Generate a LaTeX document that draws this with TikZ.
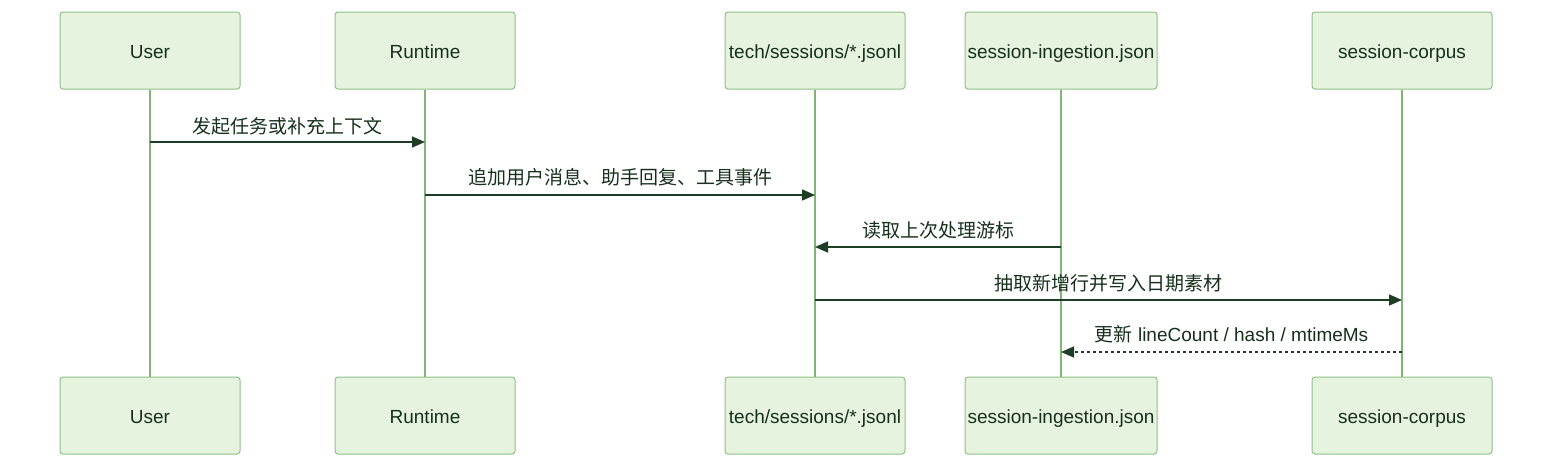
\documentclass[tikz,border=0pt]{standalone}
\usepackage{fontspec}
\setmainfont{Liberation Sans}
\newfontfamily\cjk{Noto Sans CJK SC}
\usetikzlibrary{arrows.meta}
\definecolor{boxfill}{HTML}{E6F4DF}
\definecolor{boxdraw}{HTML}{8FC087}
\definecolor{lifeln}{HTML}{82B479}
\definecolor{msgcol}{HTML}{1E3D25}
\definecolor{txtcol}{HTML}{16301C}
\tikzset{
  actor/.style={draw=boxdraw, fill=boxfill, line width=1pt, rounded corners=3pt,
    minimum height=77pt, text=txtcol, font=\fontsize{19}{22}\selectfont, inner sep=0pt,
    text height=18pt, text depth=2pt},
  lifeline/.style={draw=lifeln, line width=2.2pt},
  msg/.style={draw=msgcol, line width=1.5pt, -{Triangle[length=13pt,width=11pt]}},
  reply/.style={msg, dash pattern=on 3pt off 3pt},
  msglabel/.style={text=txtcol, font=\fontsize{19}{22}\selectfont, inner sep=0pt}
}
\begin{document}
\begin{tikzpicture}[x=1pt,y=-1pt]
\useasboundingbox (0,0) rectangle (1568,474);
% top actors
\node[actor, minimum width=180pt] (uT) at (150,50.5) {User};
\node[actor, minimum width=180pt] (rT) at (425,50.5) {Runtime};
\node[actor, minimum width=180pt] (tT) at (815,50.5) {tech/sessions/*.jsonl};
\node[actor, minimum width=192pt] (iT) at (1061,50.5) {session-ingestion.json};
\node[actor, minimum width=180pt] (cT) at (1402,50.5) {session-corpus};
% bottom actors
\node[actor, minimum width=180pt] (uB) at (150,415.5) {User};
\node[actor, minimum width=180pt] (rB) at (425,415.5) {Runtime};
\node[actor, minimum width=180pt] (tB) at (815,415.5) {tech/sessions/*.jsonl};
\node[actor, minimum width=192pt] (iB) at (1061,415.5) {session-ingestion.json};
\node[actor, minimum width=180pt] (cB) at (1402,415.5) {session-corpus};
% lifelines
\draw[lifeline] (uT.south) -- (uB.north);
\draw[lifeline] (rT.south) -- (rB.north);
\draw[lifeline] (tT.south) -- (tB.north);
\draw[lifeline] (iT.south) -- (iB.north);
\draw[lifeline] (cT.south) -- (cB.north);
% message anchor coordinates
\coordinate (m1a) at (uT.south |- 0,142);
\coordinate (m1b) at (rT.south |- 0,142);
\coordinate (m2a) at (rT.south |- 0,195);
\coordinate (m2b) at (tT.south |- 0,195);
\coordinate (m3a) at (iT.south |- 0,247);
\coordinate (m3b) at (tT.south |- 0,247);
\coordinate (m4a) at (tT.south |- 0,300);
\coordinate (m4b) at (cT.south |- 0,300);
\coordinate (m5a) at (cT.south |- 0,352);
\coordinate (m5b) at (iT.south |- 0,352);
\draw[msg] (m1a) -- (m1b) node[msglabel, midway, yshift=16pt] {\cjk 发起任务或补充上下文};
\draw[msg] (m2a) -- (m2b) node[msglabel, midway, yshift=18pt] {\cjk 追加用户消息、助手回复、工具事件};
\draw[msg] (m3a) -- (m3b) node[msglabel, midway, yshift=17pt] {\cjk 读取上次处理游标};
\draw[msg] (m4a) -- (m4b) node[msglabel, midway, yshift=17pt] {\cjk 抽取新增行并写入日期素材};
\draw[reply] (m5a) -- (m5b) node[msglabel, midway, yshift=18pt] {{\cjk 更新} lineCount / hash / mtimeMs};
\end{tikzpicture}
\end{document}
